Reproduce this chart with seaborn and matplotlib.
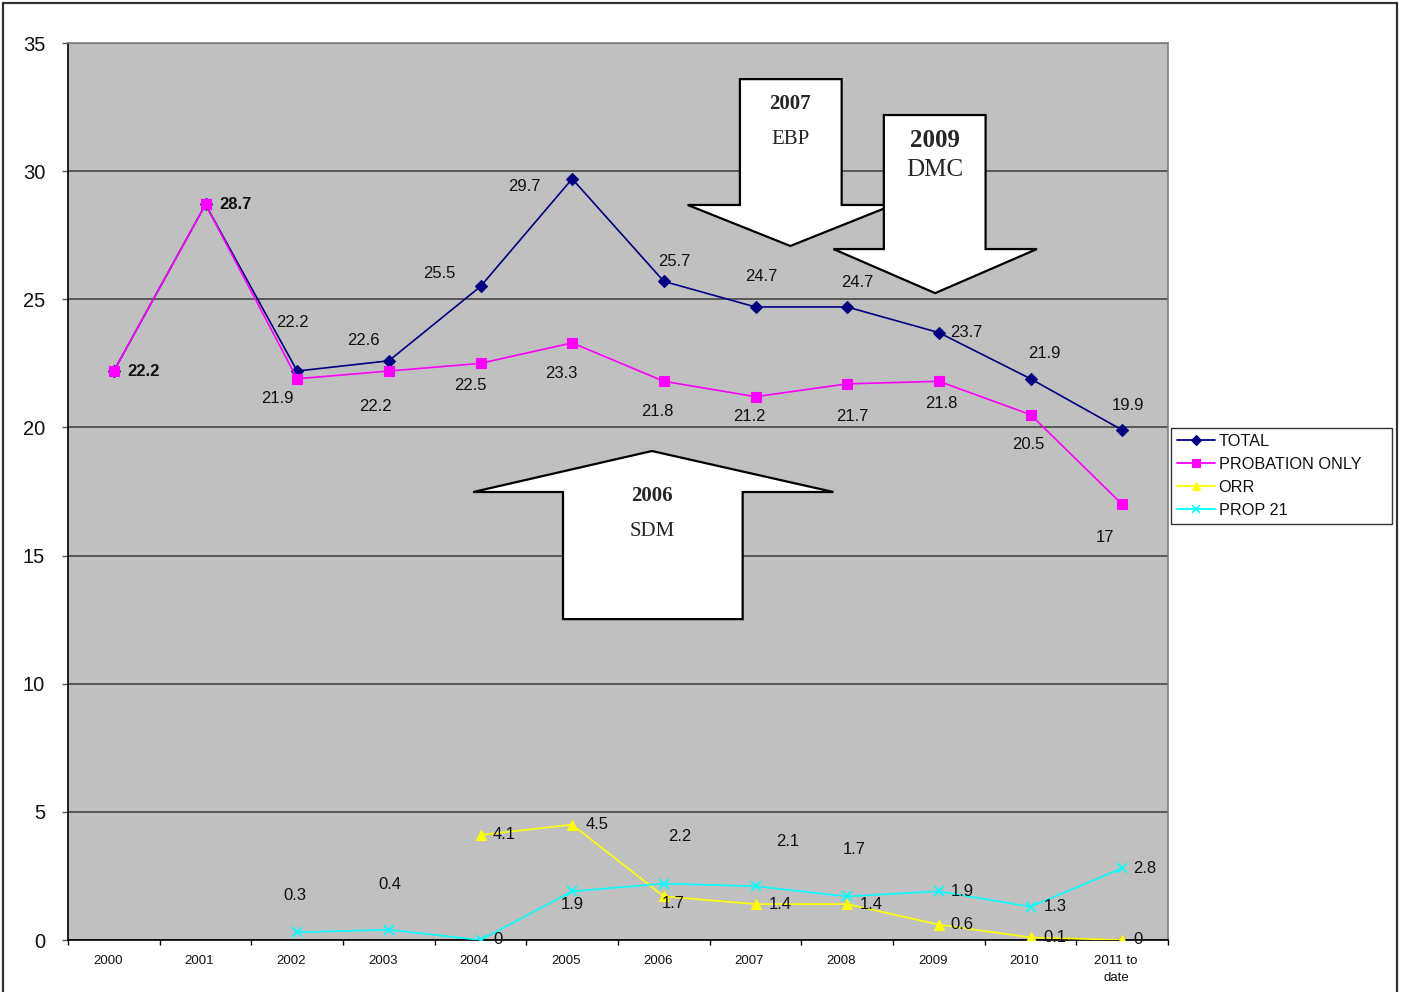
import numpy as np
import pandas as pd
import matplotlib
matplotlib.use("Agg")
import matplotlib.pyplot as plt
import matplotlib.transforms as mtransforms
from matplotlib.patches import Polygon, Rectangle
from matplotlib.ticker import FixedLocator
import seaborn as sns

# ---- data -------------------------------------------------------------
years = ["2000", "2001", "2002", "2003", "2004", "2005",
         "2006", "2007", "2008", "2009", "2010", "2011 to\ndate"]
series_names = ["TOTAL", "PROBATION ONLY", "ORR", "PROP 21"]
total = [22.2, 28.7, 22.2, 22.6, 25.5, 29.7, 25.7, 24.7, 24.7, 23.7, 21.9, 19.9]
probation_only = [22.2, 28.7, 21.9, 22.2, 22.5, 23.3, 21.8, 21.2, 21.7, 21.8, 20.5, 17]
orr = [np.nan, np.nan, np.nan, np.nan, 4.1, 4.5, 1.7, 1.4, 1.4, 0.6, 0.1, 0]
prop21 = [np.nan, np.nan, 0.3, 0.4, 0, 1.9, 2.2, 2.1, 1.7, 1.9, 1.3, 2.8]
y_ticks = [0, 5, 10, 15, 20, 25, 30, 35]

colors = ["#000080", "#FF00FF", "#FFFF00", "#00FFFF"]
markers = ["D", "s", "^", "X"]

# label offsets (pixels) from each point, per series; "shared" labels are
# where TOTAL and PROBATION ONLY coincide and one bold label serves both
label_offsets = {
    "TOTAL": [(30, 0), (30, 0), (-5, 49), (-25, 20), (-41, 13), (-48, -8),
              (10, 20), (6, 30), (10, 24), (27, 0), (14, 25), (6, 24)],
    "PROBATION ONLY": ["shared", "shared", (-20, -20), (-13, -35), (-10, -22), (-11, -31),
                       (-7, -30), (-6, -20), (5, -33), (2, -22), (-2, -30), (-17, -33)],
    "ORR": [None, None, None, None, (24, 0), (25, 0), (9, -7), (25, 0), (24, 0),
            (23, 0), (24, 0), (16, 0)],
    "PROP 21": [None, None, (-2, 37), (1, 45), (17, 0), (0, -13), (16, 47), (32, 45),
                (7, 47), (23, 0), (25, 0), (23, 0)],
}
bold_labels = {("TOTAL", 0), ("TOTAL", 1)}

values = {"TOTAL": total, "PROBATION ONLY": probation_only, "ORR": orr, "PROP 21": prop21}
rows = []
for name in series_names:
    for i, v in enumerate(values[name]):
        rows.append({"pos": i, "year": years[i], "series": name, "value": v})
df = pd.DataFrame(rows).dropna()

# ---- figure -----------------------------------------------------------
sns.set_theme(style="white")
plt.rcParams["font.family"] = ["Liberation Sans", "DejaVu Sans"]

fig = plt.figure(figsize=(14.03, 9.92), dpi=100)
ax = fig.add_axes([68 / 1403, 52 / 992, 1100 / 1403, 897 / 992])
ax.set_facecolor("#C0C0C0")

sns.lineplot(data=df, x="pos", y="value", hue="series", style="series",
             hue_order=series_names, style_order=series_names,
             palette=colors, markers=dict(zip(series_names, markers)),
             dashes=False, linewidth=1.2, markersize=6.5, markeredgewidth=0.8,
             ax=ax, legend=False, zorder=3)

# marker edges match line colours; the cross marker for PROP 21 is line-only
for line, c, m in zip(ax.lines, colors, markers):
    line.set_markeredgecolor(c)
    if m == "X":
        line.set_marker("x")
        line.set_markersize(7)
        line.set_markeredgewidth(1.3)

ax.set_xlim(-0.5, len(years) - 0.5)
ax.set_ylim(0, 35)
ax.set_xlabel("")
ax.set_ylabel("")

ax.set_yticks(y_ticks)
ax.set_yticklabels([str(t) for t in y_ticks], fontsize=14.5, color="#111111")
ax.tick_params(axis="y", direction="out", length=4.5, width=1, color="#555555",
               pad=12, left=True)
ax.yaxis.grid(True, color="#505050", linewidth=1.3)
ax.xaxis.grid(False)
ax.set_axisbelow(True)

ax.set_xticks(range(len(years)))
ax.set_xticklabels(years, fontsize=9.5, color="#111111", linespacing=1.5)
ax.tick_params(axis="x", which="major", length=0, pad=11)
shift = mtransforms.ScaledTranslation(-6 / 100, 0, fig.dpi_scale_trans)
for lbl in ax.get_xticklabels():
    lbl.set_transform(lbl.get_transform() + shift)
ax.xaxis.set_minor_locator(FixedLocator(np.arange(-0.5, len(years), 1.0)))
ax.tick_params(axis="x", which="minor", direction="out", length=3.5, width=1,
               color="#000000", bottom=True)

for side in ["left", "bottom"]:
    ax.spines[side].set_color("#000000")
    ax.spines[side].set_linewidth(1.2)
for side in ["top", "right"]:
    ax.spines[side].set_color("#808080")
    ax.spines[side].set_linewidth(1.2)

# value labels
for name in series_names:
    for i, v in enumerate(values[name]):
        off = label_offsets[name][i]
        if off is None or off == "shared" or np.isnan(v):
            continue
        weight = "bold" if (name, i) in bold_labels else "normal"
        ax.annotate(f"{v:g}", xy=(i, v), xytext=off, textcoords="offset pixels",
                    ha="center", va="center", fontsize=12, color="#111111",
                    fontweight=weight, zorder=6)

# ---- block arrows (data coordinates: category index, value) ----------
def block_arrow(shaft_x0, shaft_x1, shaft_end, base_y, head_x0, head_x1, tip, z):
    pts = [(shaft_x0, shaft_end), (shaft_x1, shaft_end), (shaft_x1, base_y),
           (head_x1, base_y), tip, (head_x0, base_y), (shaft_x0, base_y)]
    ax.add_patch(Polygon(pts, closed=True, facecolor="white", edgecolor="black",
                         linewidth=1.6, joinstyle="miter", zorder=z))

block_arrow(6.83, 7.94, 33.59, 28.68, 6.26, 8.50, (7.38, 27.08), 4)
block_arrow(8.40, 9.51, 32.19, 26.96, 7.85, 10.07, (8.96, 25.24), 5)
block_arrow(4.90, 6.86, 12.52, 17.48, 3.92, 7.85, (5.87, 19.08), 4)

serif = ["Liberation Serif", "DejaVu Serif"]
ax.text(7.38, 32.62, "2007", ha="center", va="center", fontsize=15,
        fontweight="bold", family=serif, zorder=7)
ax.text(7.38, 31.25, "EBP", ha="center", va="center", fontsize=15,
        family=serif, zorder=7)
ax.text(8.96, 31.18, "2009", ha="center", va="center", fontsize=18,
        fontweight="bold", family=serif, zorder=7)
ax.text(8.96, 30.04, "DMC", ha="center", va="center", fontsize=18,
        family=serif, zorder=7)
ax.text(5.87, 17.32, "2006", ha="center", va="center", fontsize=15,
        fontweight="bold", family=serif, zorder=7)
ax.text(5.87, 15.92, "SDM", ha="center", va="center", fontsize=15,
        family=serif, zorder=7)

# ---- legend -----------------------------------------------------------
handles = []
for name, c, m in zip(series_names, colors, markers):
    mk = "x" if m == "X" else m
    h, = ax.plot([], [], color=c, marker=mk, markersize=5.5, linewidth=1.3,
                 markeredgecolor=c, markeredgewidth=1.1 if mk == "x" else 0.8)
    handles.append(h)
leg = fig.legend(handles, series_names, loc="upper left",
                 bbox_to_anchor=(1171 / 1403, 1 - 520 / 992, 221 / 1403, 92 / 992),
                 mode="expand",
                 fontsize=11.7, frameon=True, fancybox=False, handlelength=2.3,
                 handletextpad=0.25, labelspacing=0.48, borderpad=0.38,
                 borderaxespad=0)
leg.get_frame().set_edgecolor("#000000")
leg.get_frame().set_linewidth(1.0)
leg.get_frame().set_facecolor("white")
for t in leg.get_texts():
    t.set_color("#111111")

# outer frame of the chart area
fig.add_artist(Rectangle((3 / 1403, -0.01), 1394 / 1403, 1 - 3 / 992 + 0.01,
                         transform=fig.transFigure, fill=False,
                         edgecolor="#333333", linewidth=1.6))

fig.savefig("out.png", dpi=100, facecolor="white")
